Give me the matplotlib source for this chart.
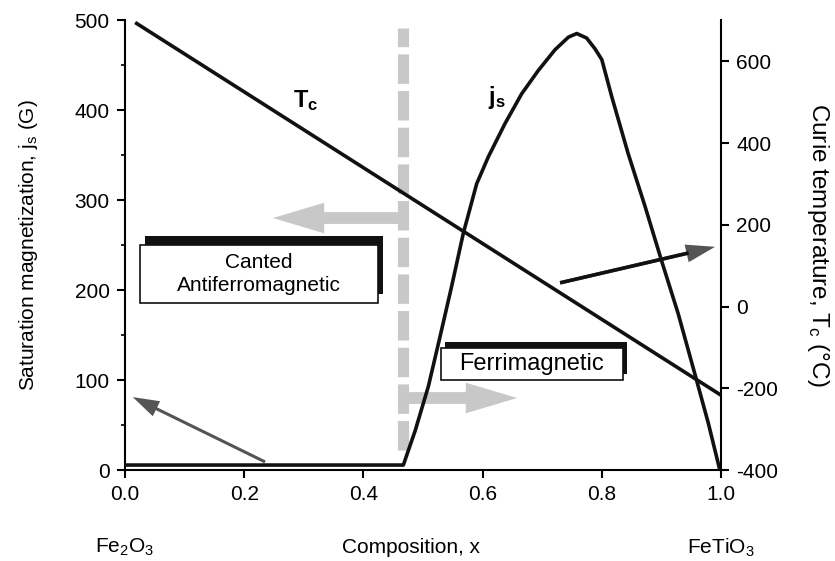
import numpy as np
import matplotlib
matplotlib.use('Agg')
import matplotlib.pyplot as plt
from matplotlib.patches import Rectangle
from matplotlib.ticker import MultipleLocator

plt.rcParams['font.family'] = ['Liberation Sans', 'DejaVu Sans']
plt.rcParams['mathtext.fontset'] = 'custom'
plt.rcParams['mathtext.rm'] = 'Liberation Sans'
plt.rcParams['mathtext.it'] = 'Liberation Sans'
plt.rcParams['mathtext.bf'] = 'Liberation Sans:bold'
plt.rcParams['axes.unicode_minus'] = False

# Saturation magnetization js (G) vs composition x
js_x = [0.0, 0.467, 0.487, 0.509, 0.5285, 0.548, 0.5676, 0.590, 0.6096, 0.6376,
        0.6655, 0.6935, 0.7215, 0.744, 0.758, 0.7745, 0.7886, 0.800, 0.8166,
        0.844, 0.8725, 0.900, 0.928, 0.956, 0.9787, 0.998]
js_val = [5.5, 5.5, 44, 93, 148, 204, 263, 318, 348, 385,
          418, 444, 467, 481, 485, 480, 468, 456, 415,
          352, 293, 233, 174, 107, 52, 0]

# Curie temperature Tc (degC) vs composition x
tc_x = [0.017, 1.0]
tc_val = [695, -217]

# boundary between canted AFM and ferrimagnetic
x_boundary = 0.466

x_ticks = [0.0, 0.2, 0.4, 0.6, 0.8, 1.0]
js_ticks = [0, 100, 200, 300, 400, 500]
tc_ticks = [-400, -200, 0, 200, 400, 600]

fig = plt.figure(figsize=(8.35, 5.61), dpi=100)
ax = fig.add_axes([0.1497, 0.1622, 0.7138, 0.8021])
ax2 = ax.twinx()

fs = 15
ax.set_xlim(0, 1.0)
ax.set_ylim(0, 500)
ax2.set_ylim(-400, 701)

for a in (ax, ax2):
    a.spines['top'].set_visible(False)
    for s in ('left', 'right', 'bottom'):
        a.spines[s].set_linewidth(1.5)
ax.spines['right'].set_visible(False)
ax2.spines['left'].set_visible(False)
ax2.spines['bottom'].set_visible(False)

ax.set_xticks(x_ticks)
ax.set_xticklabels([f'{v:.1f}' for v in x_ticks])
ax.set_yticks(js_ticks)
ax.yaxis.set_minor_locator(MultipleLocator(50))
ax2.set_yticks(tc_ticks)
ax.tick_params(axis='both', which='major', direction='out', length=6, width=1.5,
               labelsize=fs, pad=5)
ax.tick_params(axis='y', which='minor', direction='out', length=3, width=1.2)
ax2.tick_params(axis='y', which='major', direction='out', length=6, width=1.5,
                labelsize=fs, pad=5)

# phase boundary (dashed grey)
ax.plot([x_boundary, x_boundary], [22, 491], color='#c8c8c8', lw=8,
        dashes=(2.65, 0.65), solid_capstyle='butt', zorder=1)

# grey phase arrows
grey_arrow = dict(arrowstyle='simple,head_length=37,head_width=22,tail_width=8.5',
                  mutation_scale=1, color='#c8c8c8', lw=0, shrinkA=0, shrinkB=0)
ax.annotate('', xy=(0.248, 280), xytext=(0.475, 280), arrowprops=grey_arrow, zorder=1)
ax.annotate('', xy=(0.658, 80), xytext=(0.472, 80), arrowprops=grey_arrow, zorder=1)

# curves
ax2.plot(tc_x, tc_val, color='#111111', lw=2.6, solid_capstyle='butt', zorder=3)
ax.plot(js_x, js_val, color='#111111', lw=2.6, zorder=3)
ax2.set_zorder(ax.get_zorder() + 1)
ax2.patch.set_visible(False)

ax.text(0.303, 410, r'$\mathbf{T_c}$', fontsize=17, ha='center', va='center')
ax.text(0.624, 414, r'$\mathbf{j_s}$', fontsize=17, ha='center', va='center')

# label boxes with shadow
def shadow_box(x0, x1, y0, y1, dx, dy, label, size):
    ax.add_patch(Rectangle((x0 + dx, y0 + dy), x1 - x0, y1 - y0,
                           facecolor='#111111', edgecolor='none', zorder=4))
    ax.add_patch(Rectangle((x0, y0), x1 - x0, y1 - y0, facecolor='white',
                           edgecolor='#111111', lw=1.2, zorder=5))
    ax.text((x0 + x1) / 2, (y0 + y1) / 2, label, fontsize=size, ha='center',
            va='center', linespacing=1.25, zorder=6)

shadow_box(0.025, 0.4245, 185.6, 250, 0.009, 9.5, 'Canted\nAntiferromagnetic', 15)
shadow_box(0.530, 0.8356, 100, 135.6, 0.007, 6.5, 'Ferrimagnetic', 17)

# dark arrows
tip1, st1 = (0.990, 248), (0.730, 208)
ax.annotate('', xy=tip1, xytext=st1,
            arrowprops=dict(arrowstyle='simple,head_length=21,head_width=13,tail_width=2.5',
                            mutation_scale=1, color='#555555', lw=0,
                            shrinkA=0, shrinkB=0), zorder=7)
f = 0.83
ax.plot([st1[0], st1[0] + f * (tip1[0] - st1[0])],
        [st1[1], st1[1] + f * (tip1[1] - st1[1])],
        color='#111111', lw=2.6, solid_capstyle='butt', zorder=8)
ax.annotate('', xy=(0.013, 81), xytext=(0.235, 9),
            arrowprops=dict(arrowstyle='simple,head_length=19,head_width=12,tail_width=2.2',
                            mutation_scale=1, color='#555555', lw=0,
                            shrinkA=0, shrinkB=0), zorder=7)

ax.set_ylabel(r'Saturation magnetization, j$_\mathrm{s}$ (G)', fontsize=fs, labelpad=25)
ax2.set_ylabel(r'Curie temperature, T$_\mathrm{c}$ (°C)', fontsize=17.5,
               rotation=270, labelpad=38)

ax.text(0.0, -0.172, r'Fe$_2$O$_3$', transform=ax.transAxes, fontsize=fs,
        ha='center', va='center')
ax.text(0.48, -0.172, 'Composition, x', transform=ax.transAxes, fontsize=fs,
        ha='center', va='center')
ax.text(1.0, -0.172, r'FeTiO$_3$', transform=ax.transAxes, fontsize=fs,
        ha='center', va='center')

fig.savefig('out.png', dpi=100)
